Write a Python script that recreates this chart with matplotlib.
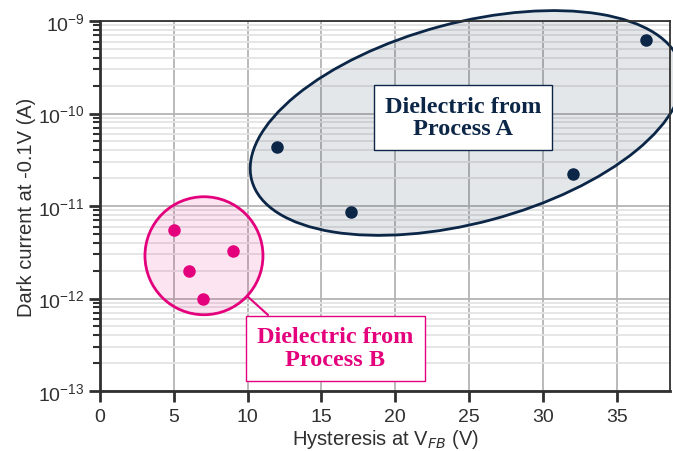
import matplotlib
matplotlib.use('Agg')
import matplotlib.pyplot as plt
from matplotlib.patches import Ellipse, Circle
from matplotlib.transforms import IdentityTransform
from matplotlib.ticker import LogLocator, NullFormatter

# data
hyst_a = [12, 17, 32, 37]
dark_a = [4.3e-11, 8.7e-12, 2.2e-11, 6.3e-10]
hyst_b = [5, 6, 7, 9]
dark_b = [5.5e-12, 2.0e-12, 1.0e-12, 3.3e-12]

label_a = 'Dielectric from\nProcess A'
label_b = 'Dielectric from\nProcess B'

NAVY = '#0c2647'
MAGENTA = '#e4007c'

plt.rcParams['font.family'] = ['Liberation Sans', 'DejaVu Sans']
plt.rcParams['mathtext.default'] = 'regular'

fig = plt.figure(figsize=(6.73, 4.52), dpi=100)
ax = fig.add_axes([0.1486, 0.1327, 0.8469, 0.8186])

ax.set_yscale('log')
ax.set_xlim(0, 38.6)
ax.set_ylim(1e-13, 1e-9)
ax.set_xticks(range(0, 40, 5))
ax.yaxis.set_major_locator(LogLocator(base=10, numticks=10))
ax.yaxis.set_minor_locator(LogLocator(base=10, subs=range(2, 10), numticks=20))
ax.yaxis.set_minor_formatter(NullFormatter())

ax.set_axisbelow(True)
ax.grid(True, which='major', color='#b4b4b4', lw=1.3)
ax.grid(True, which='minor', axis='y', color='#e4e4e4', lw=1.3)

for s in ax.spines.values():
    s.set_color('#303030')
    s.set_linewidth(1.3)
ax.spines['left'].set_linewidth(2)
ax.spines['bottom'].set_linewidth(2)
ax.tick_params(which='major', length=8, width=2, color='#303030', labelsize=14,
               labelcolor='#303030')
ax.tick_params(which='minor', length=5, width=1.5, color='#303030')
ax.tick_params(axis='x', pad=4)
ax.tick_params(axis='y', pad=3)

ax.set_xlabel('Hysteresis at V$_{\\mathit{FB}}$ (V)', fontsize=14.5, color='#303030', labelpad=2)
ax.set_ylabel('Dark current at -0.1V (A)', fontsize=14.5, color='#303030', labelpad=2)

# group outlines (sizes in display pixels)
scale = fig.dpi / 100.0
cx, cy = ax.transData.transform((24.8, 7.9e-11))
ell = Ellipse((cx, cy), width=444 * scale, height=200 * scale, angle=15,
              transform=IdentityTransform(), facecolor=NAVY, alpha=0.11,
              edgecolor='none', zorder=1, clip_on=False)
ell_edge = Ellipse((cx, cy), width=444 * scale, height=200 * scale, angle=15,
                   transform=IdentityTransform(), facecolor='none',
                   edgecolor=NAVY, lw=2, zorder=1.1, clip_on=False)
ax.add_artist(ell)
ax.add_artist(ell_edge)

bx, by = ax.transData.transform((7.04, 2.9e-12))
circ = Circle((bx, by), radius=59 * scale, transform=IdentityTransform(),
              facecolor=MAGENTA, alpha=0.1, edgecolor='none', zorder=1)
circ_edge = Circle((bx, by), radius=59 * scale, transform=IdentityTransform(),
                   facecolor='none', edgecolor=MAGENTA, lw=2, zorder=1.1)
ax.add_artist(circ)
ax.add_artist(circ_edge)

ax.scatter(hyst_a, dark_a, s=64, color=NAVY, zorder=3, clip_on=False)
ax.scatter(hyst_b, dark_b, s=64, color=MAGENTA, zorder=3)

ax.text(24.6, 9.1e-11, label_a, ha='center', va='center', fontsize=17.5,
        family='Liberation Serif', weight='bold', color=NAVY, linespacing=1.1,
        zorder=4, bbox=dict(boxstyle='square,pad=0.45', fc='white', ec=NAVY, lw=1))
ax.annotate(label_b, xy=(10.0, 1.05e-12), xytext=(15.94, 2.9e-13),
            ha='center', va='center', fontsize=17.5,
            family='Liberation Serif', weight='bold', color=MAGENTA,
            linespacing=1.1, zorder=4,
            bbox=dict(boxstyle='square,pad=0.45', fc='white', ec=MAGENTA, lw=1),
            arrowprops=dict(arrowstyle='-', color=MAGENTA, lw=1.5,
                            relpos=(0.15, 1.0), shrinkA=0, shrinkB=0))

fig.savefig('out.png', dpi=100)
